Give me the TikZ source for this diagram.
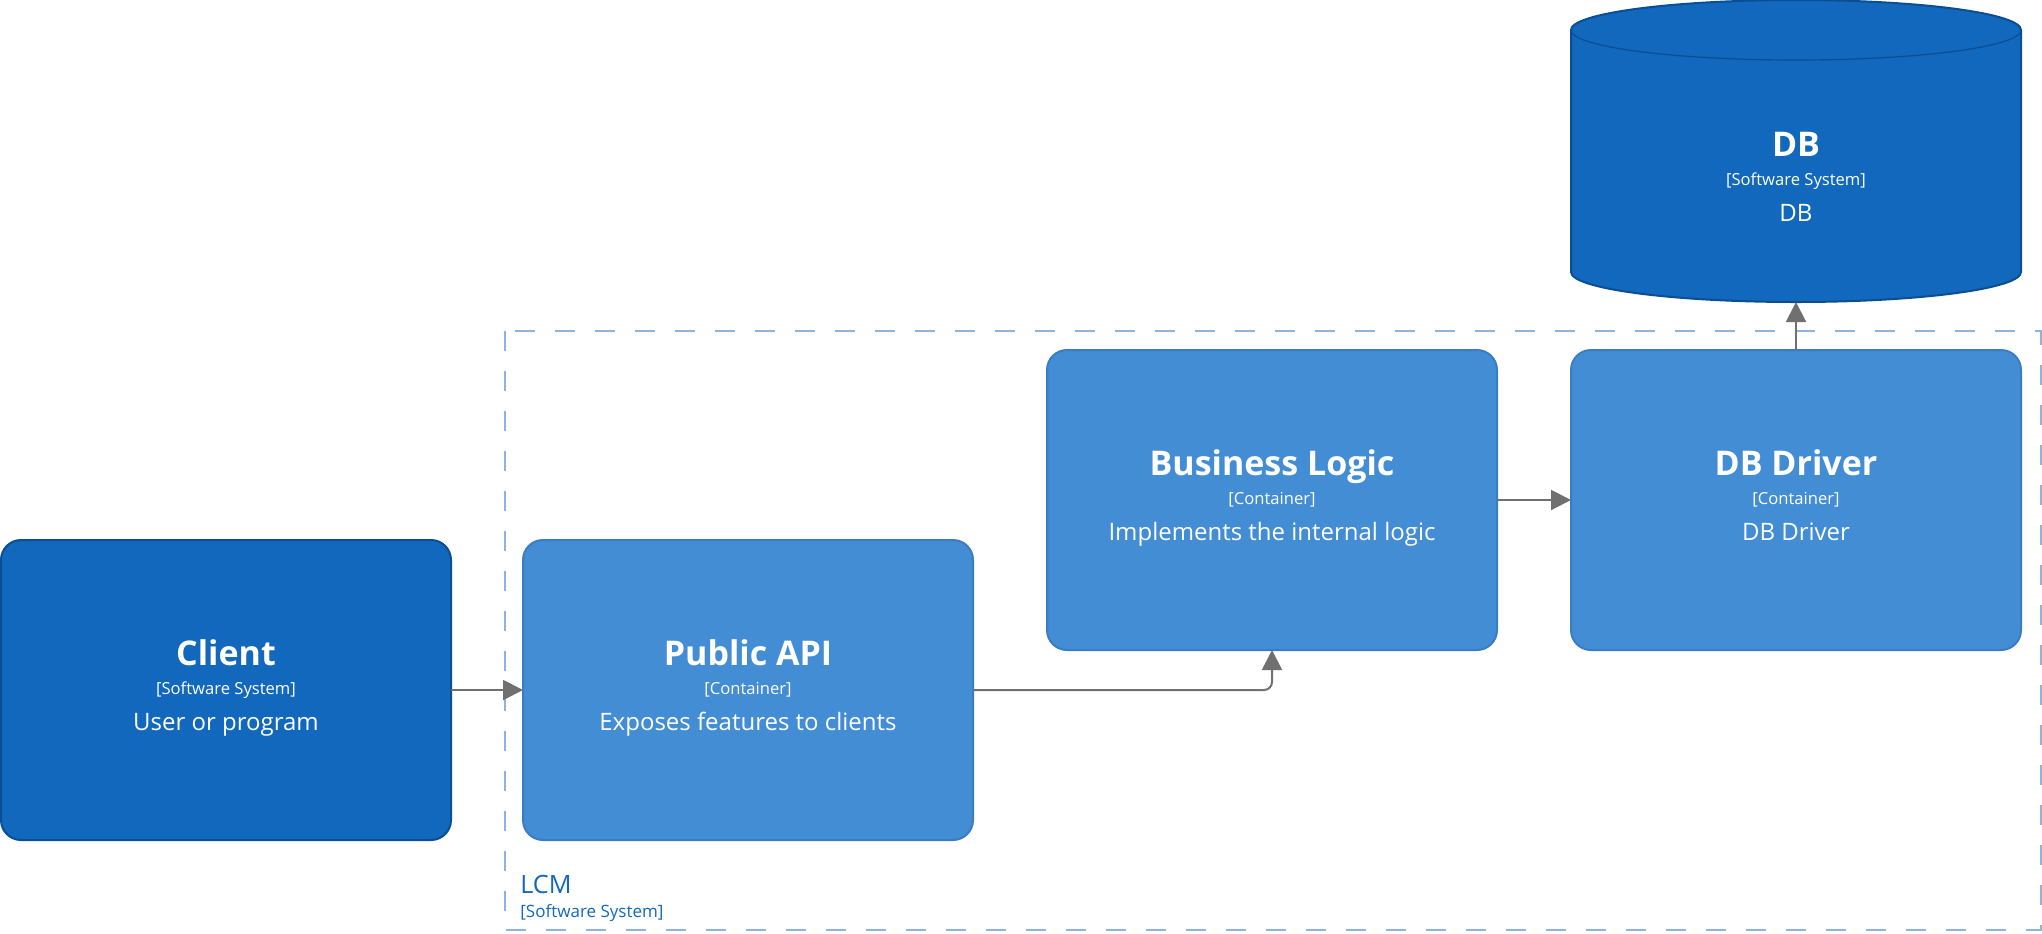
\documentclass[tikz,border=0pt]{standalone}
\usepackage{fontspec}
\setmainfont{Open Sans}
\usepackage{tikz}
\usetikzlibrary{positioning,arrows.meta}
\definecolor{SysBlue}{HTML}{1168BD}
\definecolor{SysEdge}{HTML}{0B4E94}
\definecolor{ContBlue}{HTML}{438DD5}
\definecolor{ContEdge}{HTML}{3A7DC2}
\definecolor{RelGray}{HTML}{707070}
\definecolor{BoundBlue}{HTML}{8DB3DE}

\begin{document}
\begin{tikzpicture}[x=0.5pt, y=-0.5pt, >={Triangle[length=10pt,width=10pt]},
                    c4box/.style={rounded corners=10pt, minimum width=225pt, minimum height=150pt,
                                  inner sep=0pt, outer sep=0pt, line width=1pt},
                    sysbox/.style={c4box, draw=SysEdge, fill=SysBlue},
                    contbox/.style={c4box, draw=ContEdge, fill=ContBlue},
                    c4title/.style={anchor=base, text=white, inner sep=0pt,
                                    font=\fontsize{17}{20}\selectfont\bfseries},
                    c4kind/.style={anchor=base, text=white, inner sep=0pt,
                                   font=\fontsize{8.3}{10}\selectfont},
                    c4desc/.style={anchor=base, text=white, inner sep=0pt,
                                   font=\fontsize{12}{14}\selectfont},
                    rel/.style={draw=RelGray, line width=1pt, ->}]
\useasboundingbox (0,0) rectangle (2042,933);
% LCM boundary
\draw[BoundBlue, line width=1pt, dash pattern=on 10pt off 10pt] (504.5,330.5) rectangle (2040.5,929.5);
\node[anchor=base west, inner sep=0pt, text=SysBlue, font=\fontsize{12.6}{15}\selectfont] (lcm-name) at (520,893) {LCM};
\node[anchor=base west, inner sep=0pt, text=SysBlue, font=\fontsize{8.5}{10}\selectfont] (lcm-kind) at (520,917) {[Software System]};
% boxes
\node[sysbox] (client) at (226,690) {};
\node[contbox, right=36pt of client] (api) {};
\node[contbox, right=37pt of api, yshift=95pt] (logic) {};
\node[contbox, right=37pt of logic] (driver) {};
% DB cylinder
\node[minimum width=225pt, minimum height=121pt, inner sep=0pt, outer sep=0pt] (db) at (1796,181) {};
\fill[SysBlue] ([yshift=15pt]db.north west) arc[start angle=180, end angle=0, x radius=112.5pt, y radius=15pt]
  -- ([yshift=15pt]db.south east) arc[start angle=0, end angle=-180, x radius=112.5pt, y radius=15pt] -- cycle;
\draw[SysEdge, line width=1pt] ([yshift=15pt]db.north west) arc[start angle=180, end angle=0, x radius=112.5pt, y radius=15pt]
  -- ([yshift=15pt]db.south east) arc[start angle=0, end angle=-180, x radius=112.5pt, y radius=15pt] -- cycle;
\draw[SysEdge, line width=0.6pt] ([yshift=15pt]db.north west) arc[start angle=180, end angle=360, x radius=112.5pt, y radius=15pt];
% texts
\node[c4title] (client-t) at ([yshift=12.5pt]client.center) {Client};
\node[c4kind] (client-k) at ([yshift=-2pt]client.center) {[Software System]};
\node[c4desc] (client-d) at ([yshift=-20pt]client.center) {User or program};
\node[c4title] (api-t) at ([yshift=12.5pt]api.center) {Public API};
\node[c4kind] (api-k) at ([yshift=-2pt]api.center) {[Container]};
\node[c4desc] (api-d) at ([yshift=-20pt]api.center) {Exposes features to clients};
\node[c4title] (logic-t) at ([yshift=12.5pt]logic.center) {Business Logic};
\node[c4kind] (logic-k) at ([yshift=-2pt]logic.center) {[Container]};
\node[c4desc] (logic-d) at ([yshift=-20pt]logic.center) {Implements the internal logic};
\node[c4title] (driver-t) at ([yshift=12.5pt]driver.center) {DB Driver};
\node[c4kind] (driver-k) at ([yshift=-2pt]driver.center) {[Container]};
\node[c4desc] (driver-d) at ([yshift=-20pt]driver.center) {DB Driver};
\node[c4title] (db-t) at ([yshift=12.5pt]db.center) {DB};
\node[c4kind] (db-k) at ([yshift=-2pt]db.center) {[Software System]};
\node[c4desc] (db-d) at ([yshift=-20pt]db.center) {DB};
% relations
\draw[rel] (client) -- (api);
\draw[rel, rounded corners=4pt] (api.east) -| (logic.south);
\draw[rel] (logic) -- (driver);
\draw[rel] (driver.north) -- (db.south);
\end{tikzpicture}
\end{document}
